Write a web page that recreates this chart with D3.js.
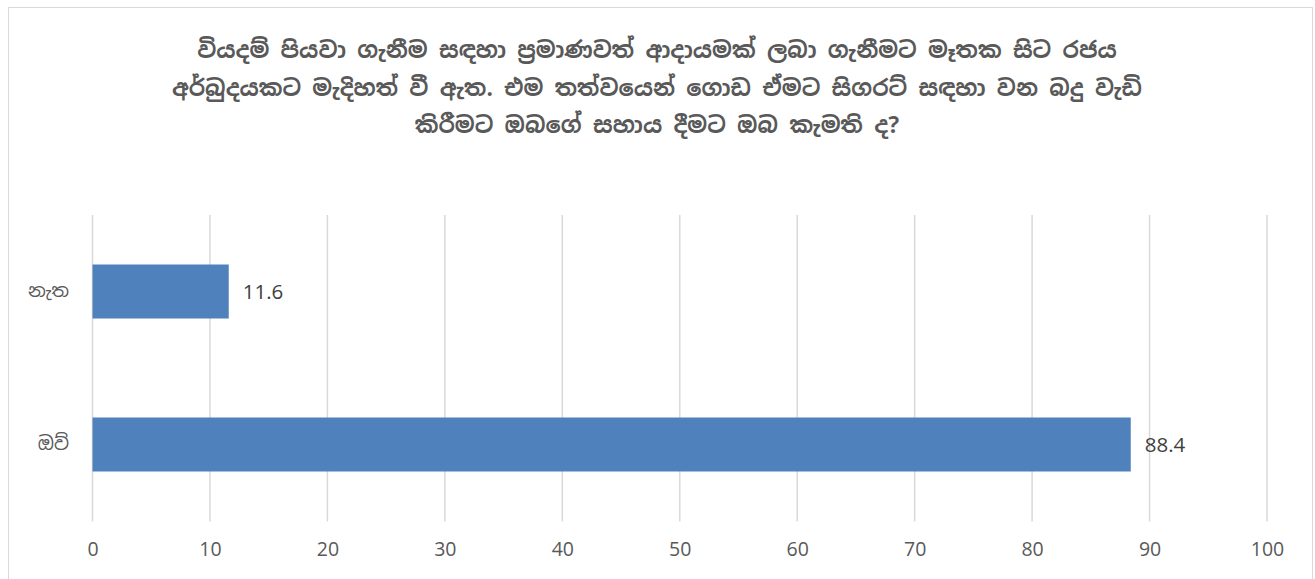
<!DOCTYPE html>
<html>
<head>
<meta charset="utf-8">
<script src="https://cdn.jsdelivr.net/npm/d3@7"></script>
<style>
  body { margin: 0; background: #fff; }
  svg { display: block; }
</style>
</head>
<body>
<svg id="canvas" width="1315" height="579"></svg>
<script>
let titleLines = [
  'වියදම් පියවා ගැනීම සඳහා ප්‍රමාණවත් ආදායමක් ලබා ගැනීමට මෑතක සිට රජය',
  'අර්බුදයකට මැදිහත් වී ඇත. එම තත්වයෙන් ගොඩ ඒමට සිගරට් සඳහා වන බදු වැඩි',
  'කිරීමට ඔබගේ සහාය දීමට ඔබ කැමති ද?'
]
let categories = ['නැත', 'ඔව්']
let values = [11.6, 88.4]
let ticks = [0, 10, 20, 30, 40, 50, 60, 70, 80, 90, 100]

let canvas = d3.select('#canvas')

let sinhala = "'Noto Sans Sinhala', 'Iskoola Pota', 'Noto Sans', sans-serif"
let latin = "'Open Sans', 'Liberation Sans', sans-serif"

// chart frame
canvas.append('rect')
  .attr('x', 8.5).attr('y', 7.5)
  .attr('width', 1304).attr('height', 590)
  .attr('fill', '#fff')
  .attr('stroke', '#d9d9d9')

// title
canvas.append('g')
  .selectAll('text')
  .data(titleLines)
  .enter()
  .append('text')
  .attr('x', 657)
  .attr('y', (d, i) => 58 + i * 37.5)
  .attr('text-anchor', 'middle')
  .attr('font-family', sinhala)
  .attr('font-weight', 'bold')
  .attr('font-size', 22.6)
  .attr('fill', '#595959')
  .text(d => d)

let xScale = d3.scaleLinear()
  .domain([0, 100])
  .range([92.5, 1267])

let yScale = d3.scaleBand()
  .domain(categories)
  .range([215, 521])
  .paddingInner(0.647)
  .paddingOuter(0.3235)

// gridlines
canvas.append('g')
  .selectAll('line')
  .data(ticks)
  .enter()
  .append('line')
  .attr('x1', d => xScale(d))
  .attr('x2', d => xScale(d))
  .attr('y1', 215)
  .attr('y2', 521.5)
  .attr('stroke', '#d9d9d9')
  .attr('stroke-width', 1.5)

// x axis labels
let xAxis = d3.axisBottom(xScale).tickValues(ticks).tickSize(0).tickPadding(0)
let xg = canvas.append('g')
  .attr('transform', 'translate(0, 542)')
  .call(xAxis)
xg.select('.domain').remove()
xg.selectAll('text')
  .attr('font-family', latin)
  .attr('font-size', 19.5)
  .attr('fill', '#595959')

// y axis labels
let yAxis = d3.axisLeft(yScale).tickSize(0).tickPadding(0)
let yg = canvas.append('g')
  .attr('transform', 'translate(69, 0)')
  .call(yAxis)
yg.select('.domain').remove()
yg.selectAll('text')
  .attr('font-family', sinhala)
  .attr('font-size', 18.5)
  .attr('fill', '#595959')

// bars
canvas.append('g')
  .selectAll('rect')
  .data(values)
  .enter()
  .append('rect')
  .attr('x', xScale(0))
  .attr('y', (d, i) => yScale(categories[i]))
  .attr('width', d => xScale(d) - xScale(0))
  .attr('height', yScale.bandwidth())
  .attr('fill', '#4f81bd')

// data labels
canvas.append('g')
  .selectAll('text')
  .data(values)
  .enter()
  .append('text')
  .attr('x', d => xScale(d) + 14)
  .attr('y', (d, i) => yScale(categories[i]) + yScale.bandwidth() / 2)
  .attr('dy', '0.35em')
  .attr('font-family', latin)
  .attr('font-size', 20.5)
  .attr('fill', '#404040')
  .text(d => d)
</script>
</body>
</html>
